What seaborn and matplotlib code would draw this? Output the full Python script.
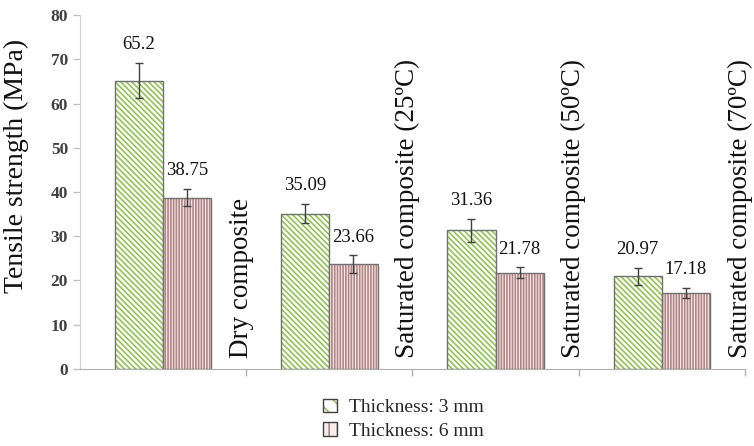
import matplotlib
matplotlib.use("Agg")
import matplotlib.pyplot as plt
import matplotlib.patches as mpatches
import numpy as np
import pandas as pd
import seaborn as sns

# values
conditions = ["Dry composite", "Saturated composite (25\u00baC)",
              "Saturated composite (50\u00baC)", "Saturated composite (70\u00baC)"]
thickness = ["Thickness: 3 mm", "Thickness: 6 mm"]
strength_3mm = [65.2, 35.09, 31.36, 20.97]
strength_6mm = [38.75, 23.66, 21.78, 17.18]
err_3mm = [4.0, 2.2, 2.6, 1.9]
err_6mm = [2.0, 2.0, 1.2, 1.1]
value_labels_3mm = ["65.2", "35.09", "31.36", "20.97"]
value_labels_6mm = ["38.75", "23.66", "21.78", "17.18"]

df = pd.DataFrame({
    "condition": conditions * 2,
    "thickness": [thickness[0]] * 4 + [thickness[1]] * 4,
    "strength": strength_3mm + strength_6mm,
})

sns.set_style("white")
plt.rcParams["font.family"] = ["Liberation Serif", "DejaVu Serif"]
plt.rcParams["hatch.linewidth"] = 1.2

fig = plt.figure(figsize=(7.54, 4.46), dpi=100)
ax = fig.add_axes([0.106, 0.173, 0.882, 0.793])

face_colors = ["#ffffff", "#f6ecec"]
hatch_colors = ["#92c353", "#b48484"]
hatches = ["\\\\\\\\\\\\", "||||||"]

sns.barplot(data=df, x="condition", y="strength", hue="thickness",
            order=conditions, hue_order=thickness, width=0.58,
            palette=face_colors, edgecolor="#707070", linewidth=1.0,
            errorbar=None, legend=False, ax=ax)

errs = [err_3mm, err_6mm]
vals = [strength_3mm, strength_6mm]
labels = [value_labels_3mm, value_labels_6mm]
bar_groups = list(ax.containers)
for k, container in enumerate(bar_groups):
    for i, bar in enumerate(container.patches):
        bar.set_edgecolor("#707070")
        bar.set_hatch(hatches[k])
        bar._hatch_color = matplotlib.colors.to_rgba(hatch_colors[k])
        xc = bar.get_x() + bar.get_width() / 2
        ax.errorbar(xc, vals[k][i], yerr=errs[k][i], fmt="none",
                    ecolor="#404040", elinewidth=1.0, capsize=3, capthick=1.0)
        ax.text(xc, vals[k][i] + errs[k][i] + 2.2, labels[k][i],
                ha="center", va="bottom", fontsize=13.5, color="#111111")

for i, name in enumerate(conditions):
    ax.text(i + 0.47, 2.4, name, rotation=90, ha="center", va="bottom",
            fontsize=19.5, color="#111111")

ax.set_xlim(-0.5, 3.5)
ax.set_ylim(0, 80)
ax.set_yticks(np.arange(0, 81, 10))
ax.set_xticks(np.arange(0.5, 4, 1))
ax.set_xticklabels([])
ax.set_xlabel("")
ax.set_ylabel("Tensile strength (MPa)", fontsize=20, color="#111111")
ax.yaxis.set_label_coords(-0.077, 0.575)
ax.tick_params(axis="y", labelsize=12.5, colors="#404040", length=5, width=1,
               color="#c0c0c0", direction="out", left=True)
ax.tick_params(axis="x", length=5, width=1, color="#b0b0b0", direction="out", bottom=True)
for lbl in ax.get_yticklabels():
    lbl.set_fontweight("bold")
for side in ["top", "right"]:
    ax.spines[side].set_visible(False)
ax.spines["left"].set_color("#d0d0d0")
ax.spines["bottom"].set_color("#b0b0b0")

handles = []
for k in range(2):
    p = mpatches.Patch(facecolor=face_colors[k], edgecolor="#404040",
                       hatch="\\\\" if k == 0 else "||", label=thickness[k])
    p._hatch_color = matplotlib.colors.to_rgba(hatch_colors[k])
    handles.append(p)
fig.legend(handles=handles, loc="lower center", bbox_to_anchor=(0.535, -0.025),
           ncol=1, frameon=False, fontsize=14, handlelength=0.7, handleheight=0.7,
           handletextpad=0.6, labelspacing=0.3)

fig.savefig("out.png", dpi=100)
